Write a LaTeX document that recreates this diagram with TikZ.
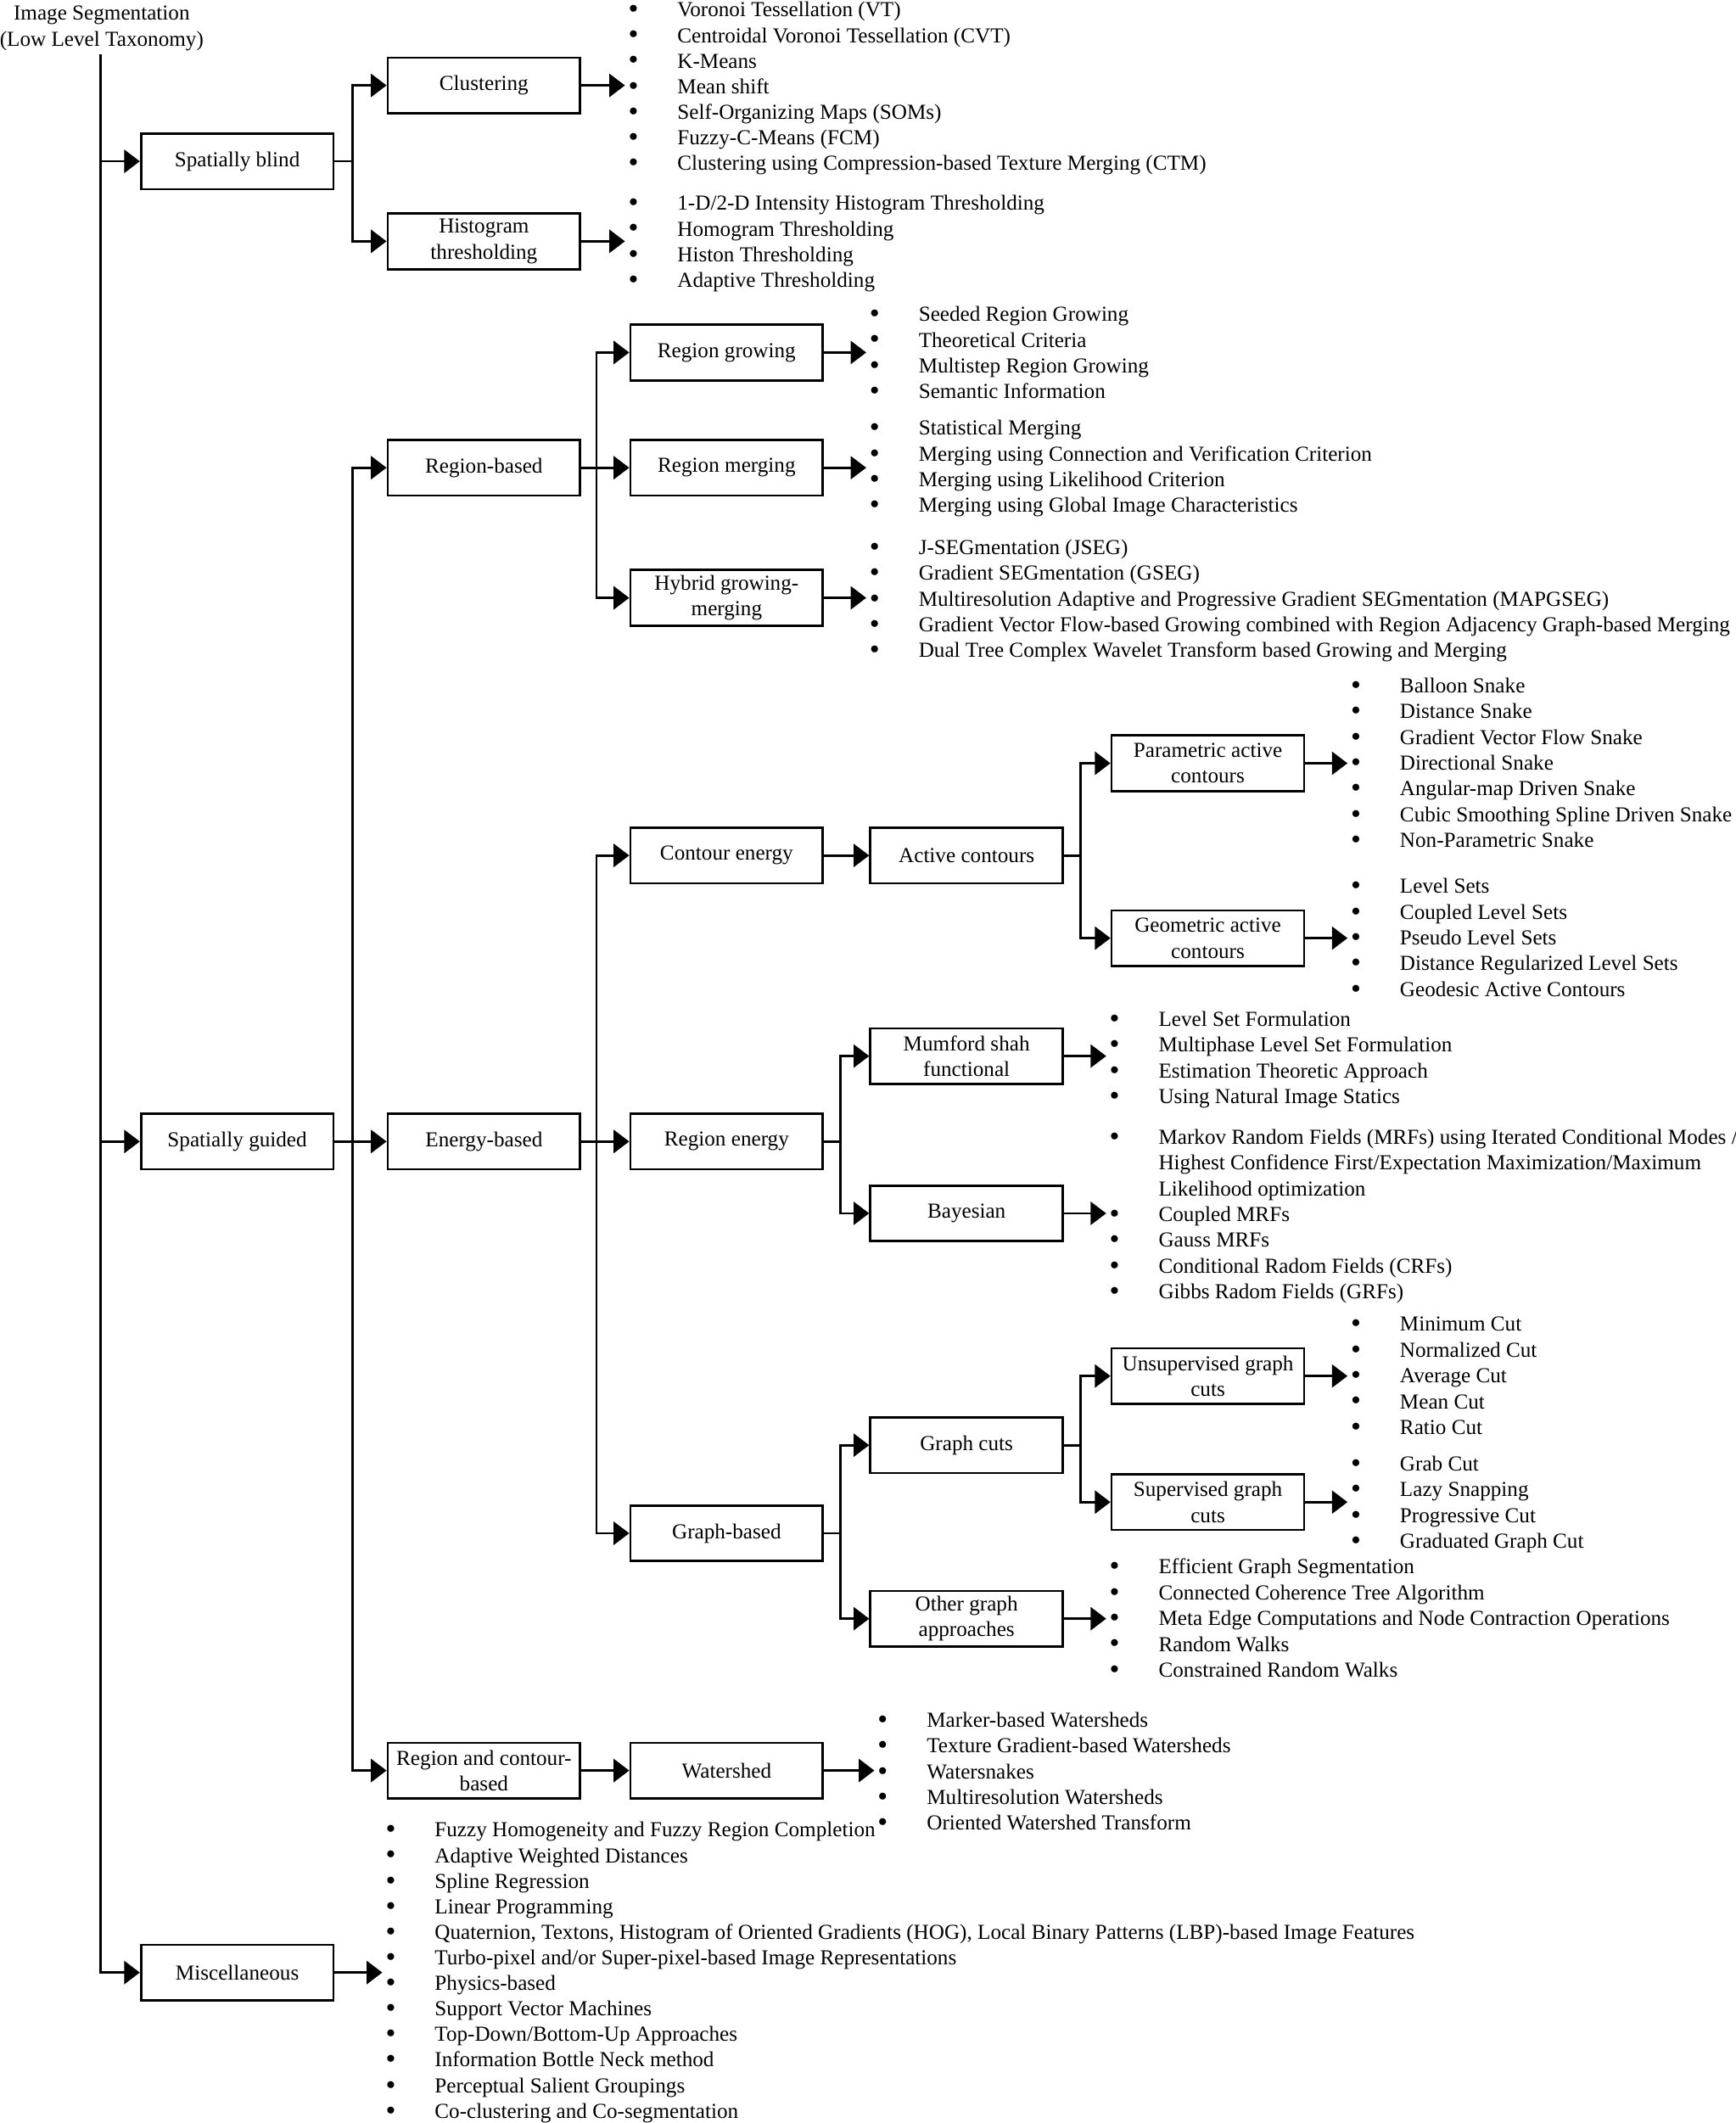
\documentclass[tikz,border=0pt]{standalone}
\usepackage{fontspec}
\usepackage{graphicx}
\setmainfont{Liberation Serif}
\usetikzlibrary{arrows.meta}
\newcommand\fs{\fontsize{15.75}{19}\selectfont}
\newcommand\bul{\makebox[0pt]{\raisebox{-1.2pt}{\scalebox{1.35}{\textbullet}}}}
\tikzset{
  box/.style={draw, line width=1.7pt, minimum width=142pt, minimum height=41pt, align=center, inner sep=0pt, font=\fs},
  conn/.style={line width=1.7pt},
  arr/.style={conn, -{Triangle[length=11.5pt,width=17pt]}},
  item/.style={anchor=base west, inner sep=0pt, font=\fs},
}
% name, bullet x, first centre y, line step, items
\newcommand\blistg[5]{%
  \foreach \t [count=\i from 0] in {#5}{%
    \node[item] (#1-\i) at (#2, {#3+5+#4*\i}) {\bul\hspace{32.5pt}\t};
  }}
\newcommand\blist[4]{\blistg{#1}{#2}{#3}{19}{#4}}
\begin{document}
\begin{tikzpicture}[x=1pt, y=-1pt]
\path[use as bounding box] (0,0) rectangle (1280,1566);

% title
\node[align=center, inner sep=0pt, font=\fs] (title) at (75,21) {Image Segmentation\\(Low Level Taxonomy)};
\coordinate (top) at (74,40);

% boxes
\node[box] (sb) at (175,119) {Spatially blind};
\node[box] (clu) at (357,63) {Clustering};
\node[box] (hist) at (357,178) {Histogram\\thresholding};
\node[box] (sg) at (175,842) {Spatially guided};
\node[box] (rb) at (357,345) {Region-based};
\node[box] (rg) at (536,260) {Region growing};
\node[box] (rm) at (536,345) {Region merging};
\node[box] (hyb) at (536,441) {Hybrid growing-\\merging};
\node[box] (eb) at (357,842) {Energy-based};
\node[box] (ce) at (536,631) {Contour energy};
\node[box] (ac) at (713,631) {Active contours};
\node[box] (pac) at (891,563) {Parametric active\\contours};
\node[box] (gac) at (891,692) {Geometric active\\contours};
\node[box] (re) at (536,842) {Region energy};
\node[box] (ms) at (713,779) {Mumford shah\\functional};
\node[box] (bay) at (713,895) {Bayesian};
\node[box] (gb) at (536,1131) {Graph-based};
\node[box] (gc) at (713,1066) {Graph cuts};
\node[box] (ugc) at (891,1015) {Unsupervised graph\\cuts};
\node[box] (sgc) at (891,1108) {Supervised graph\\cuts};
\node[box] (oga) at (713,1194) {Other graph\\approaches};
\node[box] (rcb) at (357,1306) {Region and contour-\\based};
\node[box] (ws) at (536,1306) {Watershed};
\node[box] (misc) at (175,1455) {Miscellaneous};

% junction coordinates
\coordinate (sbj) at (260,119);
\coordinate (sgj) at (260,842);
\coordinate (rbj) at (440,345);
\coordinate (ebj) at (440,842);
\coordinate (acj) at (797,631);
\coordinate (rej) at (620,842);
\coordinate (gbj) at (620,1131);
\coordinate (gcj) at (797,1066);
% free arrow ends
\coordinate (clu-e) at (461,63);
\coordinate (hist-e) at (461,178);
\coordinate (rg-e) at (639,260);
\coordinate (rm-e) at (639,345);
\coordinate (hyb-e) at (639,441);
\coordinate (pac-e) at (994,563);
\coordinate (gac-e) at (994,692);
\coordinate (ms-e) at (816,779);
\coordinate (bay-e) at (816,895);
\coordinate (ugc-e) at (994,1015);
\coordinate (sgc-e) at (994,1108);
\coordinate (oga-e) at (816,1194);
\coordinate (ws-e) at (645,1306);
\coordinate (misc-e) at (282,1455);

% trunk
\draw[arr] (top) |- (misc.west);
\draw[arr] (top |- sb.west) -- (sb.west);
\draw[arr] (top |- sg.west) -- (sg.west);

% spatially blind
\draw[conn] (sb.east) -- (sbj);
\draw[arr] (sbj) |- (clu.west);
\draw[arr] (sbj) |- (hist.west);
\draw[arr] (clu.east) -- (clu-e);
\draw[arr] (hist.east) -- (hist-e);

% spatially guided
\draw[conn] (sg.east) -- (sgj);
\draw[arr] (sgj) |- (rb.west);
\draw[arr] (sgj) -- (eb.west);
\draw[arr] (sgj) |- (rcb.west);

% region based
\draw[conn] (rb.east) -- (rbj);
\draw[arr] (rbj) |- (rg.west);
\draw[arr] (rbj) -- (rm.west);
\draw[arr] (rbj) |- (hyb.west);
\draw[arr] (rg.east) -- (rg-e);
\draw[arr] (rm.east) -- (rm-e);
\draw[arr] (hyb.east) -- (hyb-e);

% energy based
\draw[conn] (eb.east) -- (ebj);
\draw[arr] (ebj) |- (ce.west);
\draw[arr] (ebj) -- (re.west);
\draw[arr] (ebj) |- (gb.west);
\draw[arr] (ce.east) -- (ac.west);
\draw[conn] (ac.east) -- (acj);
\draw[arr] (acj) |- (pac.west);
\draw[arr] (acj) |- (gac.west);
\draw[arr] (pac.east) -- (pac-e);
\draw[arr] (gac.east) -- (gac-e);
\draw[conn] (re.east) -- (rej);
\draw[arr] (rej) |- (ms.west);
\draw[arr] (rej) |- (bay.west);
\draw[arr] (ms.east) -- (ms-e);
\draw[arr] (bay.east) -- (bay-e);
\draw[conn] (gb.east) -- (gbj);
\draw[arr] (gbj) |- (gc.west);
\draw[arr] (gbj) |- (oga.west);
\draw[conn] (gc.east) -- (gcj);
\draw[arr] (gcj) |- (ugc.west);
\draw[arr] (gcj) |- (sgc.west);
\draw[arr] (ugc.east) -- (ugc-e);
\draw[arr] (sgc.east) -- (sgc-e);
\draw[arr] (oga.east) -- (oga-e);

% region and contour
\draw[arr] (rcb.east) -- (ws.west);
\draw[arr] (ws.east) -- (ws-e);
\draw[arr] (misc.east) -- (misc-e);

% lists
\blistg{lclu}{467}{7.5}{18.8}{Voronoi Tessellation (VT), Centroidal Voronoi Tessellation (CVT), K-Means, Mean shift, Self-Organizing Maps (SOMs), Fuzzy-C-Means (FCM), Clustering using Compression-based Texture Merging (CTM)}
\blist{lhist}{467}{150}{1-D/2-D Intensity Histogram Thresholding, Homogram Thresholding, Histon Thresholding, Adaptive Thresholding}
\blist{lrg}{645}{232}{Seeded Region Growing, Theoretical Criteria, Multistep Region Growing, Semantic Information}
\blist{lrm}{645}{316}{Statistical Merging, Merging using Connection and Verification Criterion, Merging using Likelihood Criterion, Merging using Global Image Characteristics}
\blist{lhyb}{645}{404}{J-SEGmentation (JSEG), Gradient SEGmentation (GSEG), Multiresolution Adaptive and Progressive Gradient SEGmentation (MAPGSEG), Gradient Vector Flow-based Growing combined with Region Adjacency Graph-based Merging, Dual Tree Complex Wavelet Transform based Growing and Merging}
\blist{lpac}{1000}{506}{Balloon Snake, Distance Snake, Gradient Vector Flow Snake, Directional Snake, Angular-map Driven Snake, Cubic Smoothing Spline Driven Snake, Non-Parametric Snake}
\blist{lgac}{1000}{654}{Level Sets, Coupled Level Sets, Pseudo Level Sets, Distance Regularized Level Sets, Geodesic Active Contours}
\blist{lms}{822}{752}{Level Set Formulation, Multiphase Level Set Formulation, Estimation Theoretic Approach, Using Natural Image Statics}
\blist{lbay}{822}{839}{Markov Random Fields (MRFs) using Iterated Conditional Modes /}
\node[item] (lbay-c1) at (854.5,{839+5+19}) {Highest Confidence First/Expectation Maximization/Maximum};
\node[item] (lbay-c2) at (854.5,{839+5+38}) {Likelihood optimization};
\blist{lbayb}{822}{896}{Coupled MRFs, Gauss MRFs, Conditional Radom Fields (CRFs), Gibbs Radom Fields (GRFs)}
\blist{lugc}{1000}{977}{Minimum Cut, Normalized Cut, Average Cut, Mean Cut, Ratio Cut}
\blist{lsgc}{1000}{1080}{Grab Cut, Lazy Snapping, Progressive Cut, Graduated Graph Cut}
\blist{loga}{822}{1156}{Efficient Graph Segmentation, Connected Coherence Tree Algorithm, Meta Edge Computations and Node Contraction Operations, Random Walks, Constrained Random Walks}
\blist{lws}{651}{1269}{Marker-based Watersheds, Texture Gradient-based Watersheds, Watersnakes, Multiresolution Watersheds, Oriented Watershed Transform}
\blistg{lmisc}{288}{1350}{18.85}{Fuzzy Homogeneity and Fuzzy Region Completion, Adaptive Weighted Distances, Spline Regression, Linear Programming, {Quaternion, Textons, Histogram of Oriented Gradients (HOG), Local Binary Patterns (LBP)-based Image Features}, Turbo-pixel and/or Super-pixel-based Image Representations, Physics-based, Support Vector Machines, Top-Down/Bottom-Up Approaches, Information Bottle Neck method, Perceptual Salient Groupings, Co-clustering and Co-segmentation}
\end{tikzpicture}
\end{document}
